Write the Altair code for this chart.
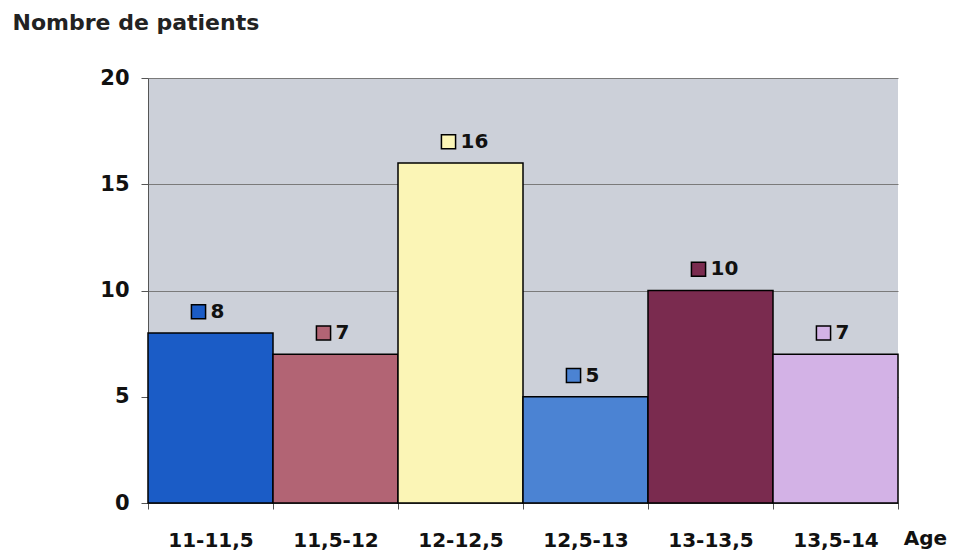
import altair as alt
import pandas as pd

categories = ["11-11,5", "11,5-12", "12-12,5", "12,5-13", "13-13,5", "13,5-14"]
counts = [8, 7, 16, 5, 10, 7]
colors = ["#1b5cc6", "#b26474", "#fbf5b6", "#4b83d3", "#7a2b4f", "#d3b2e6"]

df = pd.DataFrame({
    "idx": list(range(len(categories))),
    "cat": categories,
    "n": counts,
    "color": colors,
})
df["idx2"] = df["idx"] + 1
df["mid"] = df["idx"] + 0.5
df["lab"] = df["n"] + 1

FONT = "DejaVu Sans"
names_js = "[" + ",".join("'" + c + "'" for c in categories) + "]"

xscale = alt.Scale(domain=[0, len(categories)], nice=False, zero=False)
yscale = alt.Scale(domain=[0, 20], nice=False)

xaxis = alt.Axis(
    values=list(range(len(categories) + 1)),
    labelExpr=f"datum.value < {len(categories)} ? {names_js}[datum.value] : ''",
    labelAlign="center", labelBaseline="middle",
    labelPadding=31, labelFont=FONT, labelFontSize=20, labelFontWeight="bold",
    labelColor="#111", tickSize=6, tickColor="#555", domainColor="#555",
    grid=False, title="Age", titleFont=FONT, titleFontSize=20,
    titleFontWeight="bold", titleColor="#111", titleAngle=0,
    titleX=777, titleY=35, titleAlign="center", titleBaseline="middle",
    labelFlush=False, labelOffset=62.5,
)
yaxis = alt.Axis(
    values=[0, 5, 10, 15, 20], labelFont=FONT, labelFontSize=21,
    labelFontWeight="bold", labelColor="#111", labelPadding=12,
    tickSize=7, tickColor="#555", domainColor="#555",
    grid=True, gridColor="#7a7a7a", gridWidth=1,
    title="Nombre de patients", titleFont=FONT, titleFontSize=22,
    titleFontWeight="bold", titleColor="#222", titleAngle=0,
    titleX=-136, titleY=-56, titleAlign="left", titleBaseline="middle",
)

base = alt.Chart(df)

bars = base.mark_rect(stroke="black", strokeWidth=1.5).encode(
    x=alt.X("idx:Q", scale=xscale, axis=xaxis),
    x2="idx2:Q",
    y=alt.Y("n:Q", scale=yscale, axis=yaxis),
    y2=alt.datum(0),
    fill=alt.Fill("color:N", scale=None),
)

squares = base.mark_square(size=200, stroke="black", strokeWidth=1.5,
                           opacity=1, xOffset=-12).encode(
    x="mid:Q", y="lab:Q", fill=alt.Fill("color:N", scale=None),
)

texts = base.mark_text(align="left", baseline="middle", dx=0, font=FONT,
                       fontSize=20, fontWeight="bold", color="#111").encode(
    x="mid:Q", y="lab:Q", text="n:Q",
)

chart = (bars + squares + texts).properties(
    width=750, height=425,
    autosize=alt.AutoSizeParams(type="none"),
    padding={"left": 140, "top": 70, "right": 55, "bottom": 48},
    background="white",
).configure_view(fill="#ccd0d9", stroke=None)

chart.save("out.html", embed_options={"renderer": "svg", "actions": False})
